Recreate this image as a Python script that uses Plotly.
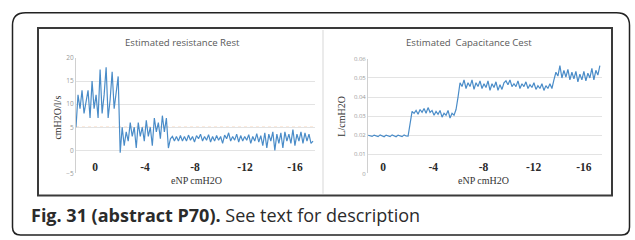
import numpy as np
import plotly.graph_objects as go

W, H = 635, 240

# ---------------- data ----------------
# Estimated resistance Rest (cmH2O/l/s), samples ordered along eNP from +1.5 to -17.4 cmH2O
rest_values = [
    5, 12, 9, 13, 8, 11, 13, 7, 15, 9, 12, 7, 17.5, 8, 12, 18, 7, 11, 17, 9, 12, 16,
    -0.5, 5, 1, 4, 2, 6, 3, 5, 0.5, 6, 3, 5, 2, 6.5, 3, 5, 1, 7, 4, 6, 2.5, 7.5, 4, 7,
    0.5, 2.5, 3, 2, 3, 2, 3.2, 2, 3, 2, 3.3, 2.2, 3, 1.8, 3.2, 2.5, 3.5, 2, 3, 2.2,
    3.4, 1.8, 3, 2, 3.2, 2.2, 3, 1.5, 3.3, 2.5, 3.8, 2, 3, 2.2, 3.5, 1.8, 3.2, 2, 3,
    2.2, 3.4, 1.5, 3, 2, 3.6, 1.8, 3.2, 1, 3.8, 0.5, 3.5, 2, 4, 0, 3.5, 1.5, 3.8, 0.5,
    4, 2, 3.5, 1.5, 4.5, 1, 3.5, 2, 4, 1.5, 3.8, 2, 3.5, 1.5, 2,
]
rest_enp_start, rest_enp_end = 1.52, -17.44

# Estimated capacitance Cest (L/cmH2O)
cest_values = [
    0.0200, 0.0196, 0.0194, 0.0201, 0.0195, 0.0193, 0.0202, 0.0195, 0.0192, 0.0201,
    0.0195, 0.0193, 0.0202, 0.0195, 0.0192, 0.0201, 0.0196, 0.0193, 0.0202, 0.0196, 0.0195,
    0.0255, 0.0325, 0.0315, 0.033, 0.031, 0.0335, 0.032, 0.034, 0.0315, 0.0345, 0.032, 0.033,
    0.0305, 0.0325, 0.031, 0.033, 0.0295, 0.0315, 0.0305, 0.033, 0.029, 0.0315, 0.0305, 0.0335,
    0.040, 0.0475, 0.0455, 0.049, 0.0445, 0.0475, 0.0455, 0.049, 0.044, 0.0475, 0.0455, 0.0485,
    0.0445, 0.047, 0.045, 0.0485, 0.0435, 0.047, 0.045, 0.048, 0.0435, 0.0465, 0.044, 0.0475,
    0.0485, 0.0465, 0.049, 0.0455, 0.047, 0.0455, 0.0485, 0.0445, 0.047, 0.0455, 0.048, 0.0445,
    0.0465, 0.045, 0.0475, 0.044, 0.046, 0.0445, 0.047, 0.0435, 0.046, 0.0445, 0.047, 0.0445,
    0.049, 0.053, 0.051, 0.0565, 0.050, 0.054, 0.0505, 0.0545, 0.049, 0.053, 0.0495, 0.0535,
    0.048, 0.052, 0.049, 0.0535, 0.0485, 0.0525, 0.050, 0.055, 0.049, 0.054, 0.0515, 0.0565,
]
cest_enp_start, cest_enp_end = 1.19, -17.28

enp_ticks = [0, -4, -8, -12, -16]
enp_tick_labels = ["0", "-4", "-8", "-12", "-16"]
rest_yticks = [-5, 0, 5, 10, 15, 20]
cest_yticks = [0, 0.01, 0.02, 0.03, 0.04, 0.05, 0.06]
cest_ytick_labels = ["0", "0.01", "0.02", "0.03", "0.04", "0.05", "0.06"]

rest_x = np.linspace(rest_enp_start, rest_enp_end, len(rest_values))
cest_x = np.linspace(cest_enp_start, cest_enp_end, len(cest_values))

# ---------------- helpers ----------------
def px(x):
    return x / W

def py(y):
    return 1 - y / H

LINE = "#4a8cc8"
GRID = "#e3e3e3"
TICKC = "#9a9a9a"
SERIF = "Liberation Serif, Times New Roman, serif"
SANS = "Open Sans, Noto Sans, sans-serif"

fig = go.Figure()
fig.add_trace(go.Scatter(x=rest_x, y=rest_values, mode="lines",
                         line=dict(color=LINE, width=1.2), xaxis="x", yaxis="y",
                         showlegend=False, hoverinfo="skip"))
fig.add_trace(go.Scatter(x=cest_x, y=cest_values, mode="lines",
                         line=dict(color=LINE, width=1.2), xaxis="x2", yaxis="y2",
                         showlegend=False, hoverinfo="skip"))

tickfont_x = dict(family=SERIF, size=11.5, color="#2a2a2a", weight="bold")

fig.update_layout(
    width=W, height=H,
    margin=dict(l=0, r=0, t=0, b=0),
    paper_bgcolor="white", plot_bgcolor="white",
    xaxis=dict(domain=[px(76), px(315)], range=[1.52, -17.6], anchor="free",
               position=py(159), showgrid=False, zeroline=False, showline=False,
               tickmode="array", tickvals=enp_ticks, ticktext=enp_tick_labels,
               ticks="", tickfont=tickfont_x),
    yaxis=dict(domain=[py(175), py(55)], range=[-5, 20], anchor="x",
               tickmode="array", tickvals=rest_yticks, showgrid=True, gridcolor=GRID,
               gridwidth=1, zeroline=False, showline=True, linecolor="#d0d0d0",
               ticks="", tickfont=dict(family=SANS, size=6.5, color=TICKC)),
    xaxis2=dict(domain=[px(368), px(602)], range=[1.2, -17.45], anchor="free",
                position=py(159), showgrid=False, zeroline=False, showline=False,
                tickmode="array", tickvals=enp_ticks, ticktext=enp_tick_labels,
                ticks="", tickfont=tickfont_x),
    yaxis2=dict(domain=[py(175), py(56)], range=[0, 0.06], anchor="x2",
                tickmode="array", tickvals=cest_yticks, ticktext=cest_ytick_labels,
                showgrid=True, gridcolor=GRID, gridwidth=1, zeroline=False,
                showline=True, linecolor="#d0d0d0",
                ticks="", tickfont=dict(family=SANS, size=6, color=TICKC)),
)

shapes = []
# outer rounded frame
x0, y0, x1, y1 = 12.5, 8, 629.5, 239
rt, rb = 13, 8
path = (f"M {px(x0)},{py(y0+rt)} Q {px(x0)},{py(y0)} {px(x0+rt)},{py(y0)} "
        f"L {px(x1-rt)},{py(y0)} Q {px(x1)},{py(y0)} {px(x1)},{py(y0+rt)} "
        f"L {px(x1)},{py(y1-rb)} Q {px(x1)},{py(y1)} {px(x1-rb)},{py(y1)} "
        f"L {px(x0+rb)},{py(y1)} Q {px(x0)},{py(y1)} {px(x0)},{py(y1-rb)} Z")
shapes.append(dict(type="path", path=path, xref="paper", yref="paper",
                   line=dict(color="#222222", width=1.5), layer="below"))
# inner figure box
shapes.append(dict(type="rect", xref="paper", yref="paper",
                   x0=px(38), x1=px(612), y0=py(198), y1=py(24),
                   line=dict(color="#3a3a3a", width=2), layer="below"))
# panel divider
shapes.append(dict(type="line", xref="paper", yref="paper",
                   x0=px(323), x1=px(323), y0=py(196), y1=py(26),
                   line=dict(color="#e4e4e4", width=1.5), layer="below"))
# orange reference line at 5 on left chart
shapes.append(dict(type="line", xref="x domain", yref="y",
                   x0=0, x1=1, y0=5, y1=5,
                   line=dict(color="#f4b183", width=1, dash="dot"), layer="below"))
fig.update_layout(shapes=shapes)

ann = []
ann.append(dict(x=px(182), y=py(39), text="Estimated resistance Rest",
                font=dict(family=SANS, size=9.6, color="#595959")))
ann.append(dict(x=px(469), y=py(39), text="Estimated  Capacitance Cest",
                font=dict(family=SANS, size=9.6, color="#595959")))
ann.append(dict(x=px(196), y=py(182), text="eNP cmH2O",
                font=dict(family=SERIF, size=10, color="#333333")))
ann.append(dict(x=px(483), y=py(182), text="eNP cmH2O",
                font=dict(family=SERIF, size=10, color="#333333")))
ann.append(dict(x=px(58), y=py(117), text="cmH2O/l/s", textangle=-90,
                font=dict(family=SERIF, size=10, color="#333333")))
ann.append(dict(x=px(342), y=py(116), text="L/cmH2O", textangle=-90,
                font=dict(family=SERIF, size=10, color="#333333")))
ann.append(dict(x=px(29), y=py(218), xanchor="left",
                text="<b>Fig. 31 (abstract P70).</b> See text for description",
                font=dict(family=SANS, size=18, color="#2b2b2b")))
for a in ann:
    a.setdefault("xanchor", "center")
    a.update(xref="paper", yref="paper", yanchor="middle", showarrow=False)
fig.update_layout(annotations=ann)

fig.write_html("out.html", config={"displayModeBar": False},
               post_script="document.body.style.margin='0';document.body.style.overflow='hidden';")
